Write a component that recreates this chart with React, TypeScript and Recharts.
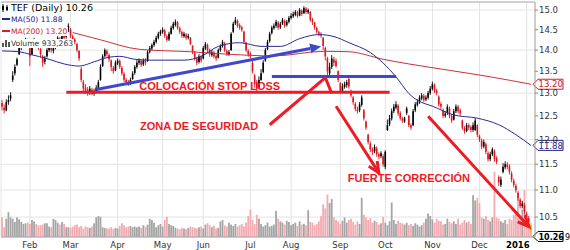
import {
  Bar,
  CartesianGrid,
  ComposedChart,
  Line,
  ReferenceDot,
  ReferenceLine,
  XAxis,
  YAxis,
} from "recharts";

type Ohlc = [number, number, number, number]; // open, high, low, close

// daily candles
const jan15: Ohlc[] = [
  [12.78, 12.85, 12.62, 12.7], [12.68, 12.75, 12.55, 12.62], [12.62, 12.86, 12.6, 12.8],
  [12.8, 12.95, 12.74, 12.85], [12.88, 13.02, 12.82, 12.95], [13.3, 13.5, 13.25, 13.4],
  [13.45, 13.66, 13.4, 13.6], [13.65, 13.82, 13.62, 13.78], [13.9, 14.1, 13.88, 14.05],
  [14.05, 14.2, 14.0, 14.15], [14.12, 14.26, 14.08, 14.2], [14.18, 14.3, 14.12, 14.25],
  [14.22, 14.28, 14.1, 14.15],
];
const feb15: Ohlc[] = [
  [14.1, 14.14, 13.62, 13.85], [13.9, 14.15, 13.88, 14.1], [14.12, 14.3, 14.08, 14.25],
  [14.22, 14.26, 14.1, 14.15], [14.12, 14.18, 14.0, 14.05], [14.02, 14.06, 13.82, 13.9],
  [13.85, 13.88, 13.6, 13.7], [13.72, 13.86, 13.66, 13.8], [13.85, 14.05, 13.82, 14.0],
  [14.0, 14.14, 13.95, 14.1], [14.08, 14.12, 13.94, 14.0], [13.98, 14.1, 13.92, 14.05],
  [14.05, 14.2, 14.02, 14.15], [14.16, 14.34, 14.12, 14.3], [14.28, 14.32, 14.14, 14.2],
  [14.22, 14.4, 14.18, 14.35], [14.36, 14.42, 14.25, 14.3], [14.32, 14.5, 14.28, 14.45],
  [14.48, 14.66, 14.44, 14.6],
];
const mar15: Ohlc[] = [
  [14.5, 14.54, 14.3, 14.35], [14.34, 14.38, 14.2, 14.25], [14.26, 14.3, 14.14, 14.2],
  [14.15, 14.18, 13.95, 14.0], [13.98, 14.0, 13.74, 13.8], [13.55, 13.6, 13.25, 13.3],
  [13.25, 13.3, 13.02, 13.1], [13.12, 13.2, 12.98, 13.05], [13.08, 13.14, 12.94, 13.0],
  [13.0, 13.16, 12.96, 13.1], [13.08, 13.12, 12.95, 12.98], [12.98, 13.1, 12.94, 13.05],
  [13.04, 13.18, 13.0, 13.12], [13.1, 13.3, 13.08, 13.25], [13.3, 13.66, 13.28, 13.6],
  [13.62, 13.9, 13.6, 13.85], [13.86, 14.04, 13.82, 14.0], [13.98, 14.02, 13.84, 13.9],
  [13.88, 13.92, 13.72, 13.78], [13.75, 13.78, 13.5, 13.6], [13.58, 13.62, 13.44, 13.5],
  [13.52, 13.75, 13.5, 13.7],
];
const apr15: Ohlc[] = [
  [13.68, 13.8, 13.64, 13.75], [13.74, 13.78, 13.55, 13.6], [13.58, 13.62, 13.4, 13.45],
  [13.44, 13.48, 13.25, 13.3], [13.3, 13.34, 13.2, 13.25], [13.26, 13.3, 13.16, 13.2],
  [13.2, 13.35, 13.18, 13.3], [13.32, 13.5, 13.3, 13.45], [13.46, 13.64, 13.42, 13.6],
  [13.6, 13.76, 13.56, 13.7], [13.7, 13.8, 13.65, 13.75], [13.74, 13.78, 13.6, 13.65],
  [13.66, 13.8, 13.62, 13.75], [13.76, 13.8, 13.64, 13.7], [13.74, 14.0, 13.72, 13.95],
  [13.96, 14.1, 13.92, 14.05], [14.04, 14.16, 14.0, 14.12], [14.12, 14.25, 14.08, 14.2],
  [14.2, 14.35, 14.16, 14.3], [14.3, 14.45, 14.26, 14.4], [14.4, 14.5, 14.35, 14.45],
];
const may15: Ohlc[] = [
  [14.44, 14.56, 14.4, 14.5], [14.48, 14.52, 14.3, 14.35], [14.34, 14.38, 14.2, 14.25],
  [14.26, 14.45, 14.22, 14.4], [14.4, 14.6, 14.38, 14.55], [14.54, 14.7, 14.5, 14.65],
  [14.62, 14.76, 14.58, 14.7], [14.68, 14.72, 14.5, 14.55], [14.54, 14.58, 14.4, 14.45],
  [14.44, 14.48, 14.3, 14.35], [14.34, 14.45, 14.3, 14.4], [14.38, 14.42, 14.25, 14.3],
  [14.3, 14.4, 14.26, 14.35], [14.3, 14.32, 14.12, 14.15], [14.1, 14.12, 13.9, 13.95],
  [13.94, 13.98, 13.75, 13.8], [13.8, 13.84, 13.64, 13.7], [13.72, 13.9, 13.68, 13.85],
  [13.84, 13.88, 13.7, 13.75],
];
const jun15: Ohlc[] = [
  [13.8, 14.1, 13.78, 14.05], [14.04, 14.2, 14.0, 14.15], [14.12, 14.16, 13.95, 14.0],
  [14.0, 14.04, 13.84, 13.9], [13.88, 14.0, 13.84, 13.95], [13.94, 13.98, 13.8, 13.85],
  [13.86, 13.9, 13.74, 13.8], [13.82, 14.04, 13.8, 14.0], [14.0, 14.14, 13.96, 14.1],
  [14.1, 14.25, 14.06, 14.2], [14.16, 14.2, 13.95, 14.0], [13.98, 14.02, 13.86, 13.9],
  [13.9, 14.0, 13.86, 13.95], [14.0, 14.44, 13.98, 14.4], [14.45, 14.7, 14.42, 14.65],
  [14.66, 14.82, 14.62, 14.75], [14.72, 14.76, 14.55, 14.6], [14.62, 14.66, 14.5, 14.55],
  [14.56, 14.6, 14.45, 14.5], [14.45, 14.48, 14.15, 14.2], [14.18, 14.2, 13.95, 14.0],
  [13.98, 14.02, 13.84, 13.9],
];
const jul15: Ohlc[] = [
  [13.92, 13.96, 13.8, 13.85], [13.7, 13.74, 13.45, 13.5], [13.4, 13.44, 13.12, 13.2],
  [13.25, 13.3, 13.04, 13.1], [13.12, 13.38, 13.1, 13.3], [13.3, 13.55, 13.28, 13.45],
  [13.48, 13.76, 13.45, 13.7], [13.75, 14.05, 13.72, 14.0], [14.02, 14.25, 14.0, 14.2],
  [14.22, 14.45, 14.18, 14.4], [14.42, 14.6, 14.38, 14.55], [14.54, 14.66, 14.5, 14.6],
  [14.6, 14.75, 14.55, 14.7], [14.68, 14.72, 14.5, 14.55], [14.56, 14.7, 14.52, 14.65],
  [14.66, 14.8, 14.62, 14.75], [14.72, 14.76, 14.55, 14.6], [14.62, 14.75, 14.58, 14.7],
  [14.7, 14.85, 14.66, 14.8],
];
const aug15: Ohlc[] = [
  [14.8, 14.92, 14.76, 14.85], [14.84, 14.96, 14.8, 14.9], [14.88, 15.0, 14.84, 14.95],
  [14.94, 14.98, 14.8, 14.85], [14.86, 15.05, 14.84, 15.0], [14.98, 15.02, 14.85, 14.9],
  [14.92, 15.1, 14.9, 15.05], [15.04, 15.08, 14.9, 14.95], [14.94, 15.04, 14.9, 15.0],
  [14.95, 14.98, 14.7, 14.75], [14.76, 14.8, 14.62, 14.7], [14.68, 14.7, 14.5, 14.55],
  [14.54, 14.58, 14.4, 14.45], [14.44, 14.48, 14.34, 14.4], [14.4, 14.44, 14.3, 14.35],
  [14.3, 14.32, 14.0, 14.1], [14.05, 14.08, 13.75, 13.85], [13.8, 13.84, 13.4, 13.5],
  [13.45, 13.7, 13.38, 13.6], [13.6, 13.88, 13.55, 13.8], [13.78, 13.84, 13.62, 13.7],
  [13.74, 13.8, 13.58, 13.62], [13.5, 13.52, 13.25, 13.3],
];
const sep15: Ohlc[] = [
  [13.22, 13.25, 13.0, 13.05], [13.05, 13.22, 13.02, 13.15], [13.14, 13.26, 13.1, 13.2],
  [13.18, 13.3, 13.12, 13.25], [13.32, 13.36, 13.1, 13.15], [13.05, 13.08, 12.9, 12.95],
  [12.9, 12.94, 12.74, 12.8], [12.76, 12.8, 12.6, 12.65], [12.64, 12.7, 12.55, 12.6],
  [12.62, 12.8, 12.58, 12.75], [12.74, 12.95, 12.7, 12.9], [12.62, 12.65, 12.4, 12.45],
  [12.38, 12.4, 12.2, 12.25], [12.1, 12.12, 11.9, 11.95], [11.92, 11.96, 11.74, 11.8],
  [11.8, 11.84, 11.68, 11.75], [11.76, 11.9, 11.72, 11.85], [11.82, 11.86, 11.65, 11.7],
  [11.7, 11.74, 11.6, 11.65], [11.66, 11.76, 11.62, 11.72], [11.66, 11.7, 11.45, 11.5],
];
const oct15: Ohlc[] = [
  [11.45, 11.78, 11.4, 11.75], [12.2, 12.42, 12.18, 12.3], [12.32, 12.52, 12.28, 12.45],
  [12.44, 12.66, 12.4, 12.6], [12.6, 12.76, 12.56, 12.7], [12.68, 12.82, 12.64, 12.75],
  [12.72, 12.76, 12.5, 12.55], [12.56, 12.6, 12.4, 12.45], [12.44, 12.48, 12.35, 12.4],
  [12.38, 12.48, 12.35, 12.45], [12.66, 12.7, 12.52, 12.56], [12.5, 12.52, 12.26, 12.3],
  [12.3, 12.34, 12.2, 12.25], [12.3, 12.65, 12.28, 12.6], [12.62, 12.8, 12.58, 12.75],
  [12.74, 12.86, 12.7, 12.8], [12.8, 12.95, 12.76, 12.9], [12.88, 13.0, 12.84, 12.95],
  [12.94, 12.98, 12.8, 12.85], [12.86, 12.95, 12.82, 12.9], [12.9, 13.05, 12.86, 13.0],
  [13.0, 13.16, 12.96, 13.1],
];
const nov15: Ohlc[] = [
  [13.1, 13.26, 13.06, 13.2], [13.18, 13.22, 13.0, 13.05], [13.06, 13.1, 12.95, 13.0],
  [12.92, 12.95, 12.7, 12.75], [12.76, 12.8, 12.64, 12.7], [12.62, 12.66, 12.45, 12.5],
  [12.5, 12.6, 12.46, 12.55], [12.56, 12.75, 12.52, 12.7], [12.66, 12.7, 12.45, 12.5],
  [12.5, 12.54, 12.35, 12.4], [12.42, 12.65, 12.4, 12.6], [12.6, 12.75, 12.56, 12.7],
  [12.7, 12.74, 12.55, 12.6], [12.62, 12.66, 12.5, 12.55], [12.4, 12.42, 12.2, 12.25],
  [12.24, 12.28, 12.12, 12.18], [12.18, 12.35, 12.15, 12.3], [12.3, 12.34, 12.2, 12.25],
  [12.26, 12.3, 12.15, 12.2], [12.2, 12.36, 12.16, 12.3], [12.2, 12.45, 12.18, 12.4],
  [12.3, 12.32, 12.05, 12.1],
];
const dec15: Ohlc[] = [
  [12.08, 12.1, 11.95, 12.0], [11.98, 12.02, 11.8, 11.85], [11.86, 12.0, 11.82, 11.95],
  [11.9, 11.94, 11.7, 11.75], [11.72, 11.76, 11.55, 11.6], [11.6, 11.75, 11.56, 11.7],
  [11.7, 11.84, 11.66, 11.8], [11.76, 11.8, 11.55, 11.6], [11.62, 11.66, 11.5, 11.55],
  [11.25, 11.28, 11.08, 11.15], [11.1, 11.26, 11.06, 11.2], [11.35, 11.52, 11.32, 11.45],
  [11.44, 11.56, 11.4, 11.5], [11.5, 11.54, 11.4, 11.45], [11.46, 11.5, 11.3, 11.35],
  [11.32, 11.36, 11.15, 11.2], [11.18, 11.22, 11.05, 11.1], [11.08, 11.12, 10.95, 11.0],
  [10.95, 10.98, 10.8, 10.85], [10.82, 10.85, 10.66, 10.7], [10.7, 10.8, 10.66, 10.75],
  [10.72, 10.76, 10.55, 10.6],
];
const jan16: Ohlc[] = [
  [10.56, 10.6, 10.44, 10.5], [10.48, 10.52, 10.34, 10.4], [10.36, 10.4, 10.22, 10.26],
];

// daily volume, millions of shares
const volJan15 = [3.0, 1.5, 2.8, 3.8, 3.0, 2.8, 2.3, 3.0, 2.7, 2.3, 2.0, 2.1, 2.2];
const volFeb15 = [2.0, 2.6, 2.4, 2.0, 1.8, 1.8, 1.9, 2.1, 2.1, 1.6, 1.5, 2.8, 2.6, 2.2, 1.9, 2.3, 2.0, 1.5, 1.5];
const volMar15 = [1.4, 1.6, 1.8, 1.9, 1.5, 1.7, 1.3, 1.6, 1.5, 1.4, 1.6, 2.1, 3.0, 3.2, 3.1, 1.5, 1.4, 1.3, 1.3, 1.5, 1.2, 1.4];
const volApr15 = [1.3, 1.7, 2.1, 1.8, 1.5, 1.6, 1.7, 1.5, 1.6, 1.5, 1.6, 1.4, 1.8, 1.6, 1.9, 2.8, 2.6, 2.2, 1.5, 1.8, 2.0];
const volMay15 = [1.6, 2.6, 3.1, 2.0, 1.8, 1.7, 1.4, 1.3, 1.2, 1.4, 1.3, 1.2, 1.4, 1.6, 1.5, 1.4, 1.3, 1.5, 1.6];
const volJun15 = [1.3, 1.9, 2.1, 1.8, 1.5, 1.7, 1.3, 1.4, 2.4, 2.6, 1.8, 1.6, 2.2, 1.9, 1.7, 2.0, 1.6, 1.8, 2.0, 1.6, 2.2, 3.2];
const volJul15 = [4.2, 2.6, 2.0, 3.4, 2.8, 2.0, 1.6, 1.8, 2.2, 1.6, 1.7, 1.9, 4.0, 2.8, 2.4, 2.2, 1.9, 2.5, 2.3];
const volAug15 = [1.8, 2.0, 2.2, 1.7, 2.4, 1.9, 2.0, 1.8, 4.1, 2.3, 2.2, 1.8, 2.0, 2.4, 3.2, 5.0, 4.4, 6.5, 5.2, 5.8, 3.0, 2.6, 2.4];
const volSep15 = [2.0, 2.5, 3.0, 2.2, 2.6, 2.8, 2.3, 1.9, 2.4, 2.0, 6.0, 3.4, 3.0, 2.6, 2.9, 2.2, 2.5, 2.3, 1.9, 2.1, 3.1];
const volOct15 = [2.2, 1.8, 2.4, 5.3, 2.6, 2.0, 2.5, 2.2, 2.1, 1.9, 2.2, 1.8, 2.0, 1.7, 2.1, 1.9, 1.6, 1.8, 2.2, 2.8, 3.6, 3.2];
const volNov15 = [2.7, 2.2, 2.8, 2.5, 2.4, 1.9, 2.0, 2.8, 2.3, 2.1, 2.4, 2.0, 2.8, 1.9, 2.2, 2.6, 2.2, 2.4, 2.0, 6.4, 5.6, 6.0];
const volDec15 = [5.2, 3.0, 2.8, 3.2, 2.6, 2.4, 3.0, 10.0, 3.0, 2.8, 2.4, 2.2, 2.6, 2.0, 2.8, 2.6, 3.4, 3.8, 6.0, 3.2, 4.2, 7.2];
const volJan16 = [2.4, 2.0, 0.93];

// moving averages read at a few points: [bar index, value]
const ma50Points: [number, number][] = [
  [0, 13.98], [8, 13.96], [13, 13.9], [22, 13.78], [29, 13.67], [36, 13.62], [43, 13.72],
  [50, 13.83], [55, 13.85], [62, 13.78], [69, 13.76], [85, 13.76], [93, 13.85], [101, 14.09],
  [111, 14.18], [121, 14.09], [130, 14.09], [139, 14.28], [148, 14.38], [155, 14.33],
  [162, 14.18], [172, 13.94], [184, 13.37], [190, 12.99], [194, 12.84], [201, 12.71],
  [211, 12.52], [222, 12.45], [232, 12.31], [240, 12.1], [247, 11.88],
];
const ma200Points: [number, number][] = [
  [33, 14.43], [46, 14.25], [64, 14.02], [88, 13.96], [106, 13.9], [127, 13.86],
  [150, 13.97], [162, 13.96], [178, 13.78], [190, 13.67], [209, 13.52], [228, 13.37],
  [247, 13.2],
];

const monthStarts = [13, 32, 54, 75, 94, 116, 135, 158, 179, 201, 223, 245];
const monthLabels = ["Feb", "Mar", "Apr", "May", "Jun", "Jul", "Aug", "Sep", "Oct", "Nov", "Dec", "2016"];
const priceTicks = [10.5, 11, 11.5, 12, 12.5, 13, 13.5, 14, 14.5, 15];

const candles = [
  ...jan15, ...feb15, ...mar15, ...apr15, ...may15, ...jun15,
  ...jul15, ...aug15, ...sep15, ...oct15, ...nov15, ...dec15, ...jan16,
];
const volume = [
  ...volJan15, ...volFeb15, ...volMar15, ...volApr15, ...volMay15, ...volJun15,
  ...volJul15, ...volAug15, ...volSep15, ...volOct15, ...volNov15, ...volDec15, ...volJan16,
];

const ma50 = new Map(ma50Points);
const ma200 = new Map(ma200Points);
const last = candles.length - 1;

const rows = candles.map(([o, h, l, c], i) => ({
  i,
  o,
  h,
  l,
  c,
  prev: i > 0 ? candles[i - 1][3] : o,
  range: [l, h],
  vol: volume[i],
  ma50: ma50.get(i) ?? null,
  ma200: ma200.get(i) ?? null,
}));

const RED = "#e0141e";
const PAINT_RED = "#ed1c24";
const PAINT_BLUE = "#3f48cc";
const FONT = "DejaVu Sans";

const Candle = (props: any) => {
  const { x, y, width, height, payload } = props;
  const { o, h, l, c, prev, i } = payload;
  const span = Math.log(h) - Math.log(l) || 1;
  const py = (p: number) => y + (height * (Math.log(h) - Math.log(p))) / span;
  const cx = x + width / 2;
  const color = i === last ? "#f0a800" : c >= prev ? "#000" : RED;
  const top = py(Math.max(o, c));
  const bot = py(Math.min(o, c));
  return (
    <g>
      <line x1={cx} x2={cx} y1={y} y2={y + height} stroke={color} strokeWidth={0.9} />
      <rect x={cx - 0.8} y={top} width={1.6} height={Math.max(bot - top, 1)} fill={color} />
    </g>
  );
};

const VolBar = (props: any) => {
  const { x, y, width, height, payload } = props;
  const up = payload.c >= payload.prev;
  return (
    <rect
      x={x + width / 2 - 0.9}
      y={y}
      width={1.8}
      height={height}
      fill={up ? "#a5a5a5" : "#f2abb1"}
    />
  );
};

const arrow = (color: string, filled: boolean) => (p: any) => {
  const { x1, y1, x2, y2 } = p;
  const a = Math.atan2(y2 - y1, x2 - x1);
  const len = 11;
  const w = 5;
  const bx = x2 - len * Math.cos(a);
  const by = y2 - len * Math.sin(a);
  const lx = bx + w * Math.sin(a);
  const ly = by - w * Math.cos(a);
  const rx = bx - w * Math.sin(a);
  const ry = by + w * Math.cos(a);
  return (
    <g>
      <line x1={x1} y1={y1} x2={filled ? bx : x2} y2={filled ? by : y2} stroke={color} strokeWidth={3} />
      {filled ? (
        <polygon points={`${x2},${y2} ${lx},${ly} ${rx},${ry}`} fill={color} />
      ) : (
        <polyline
          points={`${lx},${ly} ${x2},${y2} ${rx},${ry}`}
          fill="none"
          stroke={color}
          strokeWidth={3}
        />
      )}
    </g>
  );
};

const note = (text: string) => (p: any) => (
  <text
    x={p.cx}
    y={p.cy}
    textAnchor="middle"
    dominantBaseline="central"
    fontFamily="Liberation Sans"
    fontWeight={700}
    fontSize={11}
    fill={PAINT_RED}
  >
    {text}
  </text>
);

const tag = (text: string, color: string, bold: boolean, dy: number, extra?: string) => (p: any) => {
  const vb = p.viewBox;
  const x = vb.x + vb.width;
  const y = vb.y + dy;
  return (
    <g>
      <polygon
        points={`${x - 2},${y} ${x + 3},${y - 5} ${x + 28},${y - 5} ${x + 28},${y + 5} ${x + 3},${y + 5}`}
        fill="#fff"
        stroke={color}
        strokeWidth={1}
      />
      <text
        x={x + 3.5}
        y={y + 3.2}
        fontFamily={FONT}
        fontSize={bold ? 8 : 8.5}
        fontWeight={bold ? 700 : 400}
        fill={color}
      >
        {text}
      </text>
      {extra && (
        <text x={x + 30} y={y + 3.2} fontFamily={FONT} fontSize={8} fill="#000">
          {extra}
        </text>
      )}
    </g>
  );
};

const MonthTick = (p: any) => {
  const k = monthStarts.indexOf(p.payload.value);
  const label = monthLabels[k];
  const year = label === "2016";
  return (
    <text
      x={year ? p.x + 3 : p.x}
      y={p.y + 9}
      textAnchor={year ? "end" : "middle"}
      fontFamily={FONT}
      fontSize={8.5}
      fontWeight={year ? 700 : 400}
      fill={year ? "#000" : "#333"}
    >
      {label}
    </text>
  );
};

const lineStyle = { background: "#fff", display: "inline-block", paddingRight: 1 };

const Legend = () => (
  <div
    style={{
      position: "absolute",
      left: 1,
      top: 1,
      fontFamily: FONT,
      lineHeight: "9px",
      whiteSpace: "nowrap",
    }}
  >
    <div style={{ ...lineStyle, fontSize: 9.5, color: "#000" }}>
      <svg width={10} height={8} style={{ verticalAlign: "-1px" }}>
        <line x1={2} x2={2} y1={0} y2={8} stroke="#000" />
        <rect x={1} y={2} width={2} height={4} fill="#000" />
        <line x1={6} x2={6} y1={1} y2={7} stroke="#000" />
        <rect x={5} y={3} width={2} height={3} fill="#000" />
      </svg>
      TEF (Daily) 10.26
    </div>
    <br />
    <div style={{ ...lineStyle, fontSize: 7.6, color: "#22228c" }}>
      <svg width={10} height={8} style={{ verticalAlign: "-1px" }}>
        <line x1={1} x2={9} y1={4} y2={4} stroke="#22228c" strokeWidth={2} />
      </svg>
      MA(50) 11.88
    </div>
    <br />
    <div style={{ ...lineStyle, fontSize: 7.6, color: "#cc2229" }}>
      <svg width={10} height={8} style={{ verticalAlign: "-1px" }}>
        <line x1={1} x2={9} y1={4} y2={4} stroke="#cc2229" strokeWidth={2} />
      </svg>
      MA(200) 13.20
    </div>
    <br />
    <div style={{ ...lineStyle, fontSize: 7.6, color: "#333" }}>
      <svg width={10} height={8} style={{ verticalAlign: "-1px" }}>
        <rect x={1} y={4} width={2} height={4} fill="#555" />
        <rect x={4} y={1} width={2} height={7} fill="#555" />
        <rect x={7} y={3} width={2} height={5} fill="#555" />
      </svg>
      Volume 933,263
    </div>
  </div>
);

export default function App() {
  return (
    <div
      style={{
        position: "absolute",
        left: 0,
        top: 0,
        width: 570,
        height: 250,
        overflow: "hidden",
        background: "#fff",
        fontFamily: FONT,
      }}
    >
      <ComposedChart
        width={570}
        height={250}
        data={rows}
        margin={{ top: 2, right: 0, bottom: 0, left: 1 }}
        barSize={2}
        barGap={-2}
        barCategoryGap={0}
      >
        <CartesianGrid stroke="#e3e3e3" />
        <XAxis
          dataKey="i"
          type="category"
          ticks={monthStarts}
          interval={0}
          tickLine={false}
          tickSize={0}
          axisLine={{ stroke: "#a8a8a8" }}
          height={13}
          padding={{ left: 0, right: 3 }}
          tick={<MonthTick />}
        />
        <YAxis
          orientation="right"
          type="number"
          scale="log"
          domain={[10.145, 15.21]}
          allowDataOverflow
          ticks={priceTicks}
          tickFormatter={(v: number) => v.toFixed(1)}
          width={35}
          tickSize={3}
          tickMargin={1}
          axisLine={{ stroke: "#a8a8a8" }}
          tickLine={{ stroke: "#888" }}
          tick={{ fontSize: 8.5, fill: "#333", fontFamily: FONT }}
        />
        <YAxis yAxisId="vol" hide domain={[0, 36]} />
        <ReferenceLine y={15.21} stroke="#b0b0b0" />
        <Bar yAxisId="vol" dataKey="vol" shape={<VolBar />} isAnimationActive={false} />
        <Line
          dataKey="ma200"
          stroke="#c8323c"
          strokeWidth={1}
          dot={false}
          connectNulls
          type="monotone"
          isAnimationActive={false}
        />
        <Line
          dataKey="ma50"
          stroke="#2a2a96"
          strokeWidth={1}
          dot={false}
          connectNulls
          type="monotone"
          isAnimationActive={false}
        />
        <Bar dataKey="range" shape={<Candle />} isAnimationActive={false} />

        {/* hand-drawn annotations */}
        <ReferenceLine
          segment={[{ x: 30, y: 13.02 }, { x: 181, y: 13.02 }]}
          stroke={PAINT_RED}
          strokeWidth={3}
        />
        <ReferenceLine
          segment={[{ x: 126, y: 13.38 }, { x: 184, y: 13.38 }]}
          stroke={PAINT_BLUE}
          strokeWidth={3}
        />
        <ReferenceLine
          segment={[{ x: 44, y: 13.08 }, { x: 149, y: 14.09 }]}
          shape={arrow(PAINT_BLUE, true)}
        />
        <ReferenceLine
          segment={[{ x: 125, y: 12.31 }, { x: 151, y: 13.35 }]}
          stroke={PAINT_RED}
          strokeWidth={3}
        />
        <ReferenceLine
          segment={[{ x: 151, y: 13.35 }, { x: 154, y: 12.99 }]}
          stroke={PAINT_RED}
          strokeWidth={3}
        />
        <ReferenceLine
          segment={[{ x: 156, y: 12.71 }, { x: 176, y: 11.33 }]}
          shape={arrow(PAINT_RED, false)}
        />
        <ReferenceLine
          segment={[{ x: 199, y: 12.49 }, { x: 246, y: 10.33 }]}
          shape={arrow(PAINT_RED, false)}
        />
        <ReferenceDot x={97} y={13.17} r={0} shape={note("COLOCACIÓN STOP LOSS")} />
        <ReferenceDot x={92} y={12.29} r={0} shape={note("ZONA DE SEGURIDAD")} />
        <ReferenceDot x={190} y={11.23} r={0} shape={note("FUERTE CORRECCIÓN")} />

        {/* value tags on the price axis */}
        <ReferenceLine y={13.2} stroke="none" label={tag("13.20", "#cc2229", false, 0)} />
        <ReferenceLine y={11.88} stroke="none" label={tag("11.88", "#22228c", false, 0)} />
        <ReferenceLine y={10.26} stroke="none" label={tag("10.26", "#000", true, 6, "933,263")} />
      </ComposedChart>
      <Legend />
    </div>
  );
}
